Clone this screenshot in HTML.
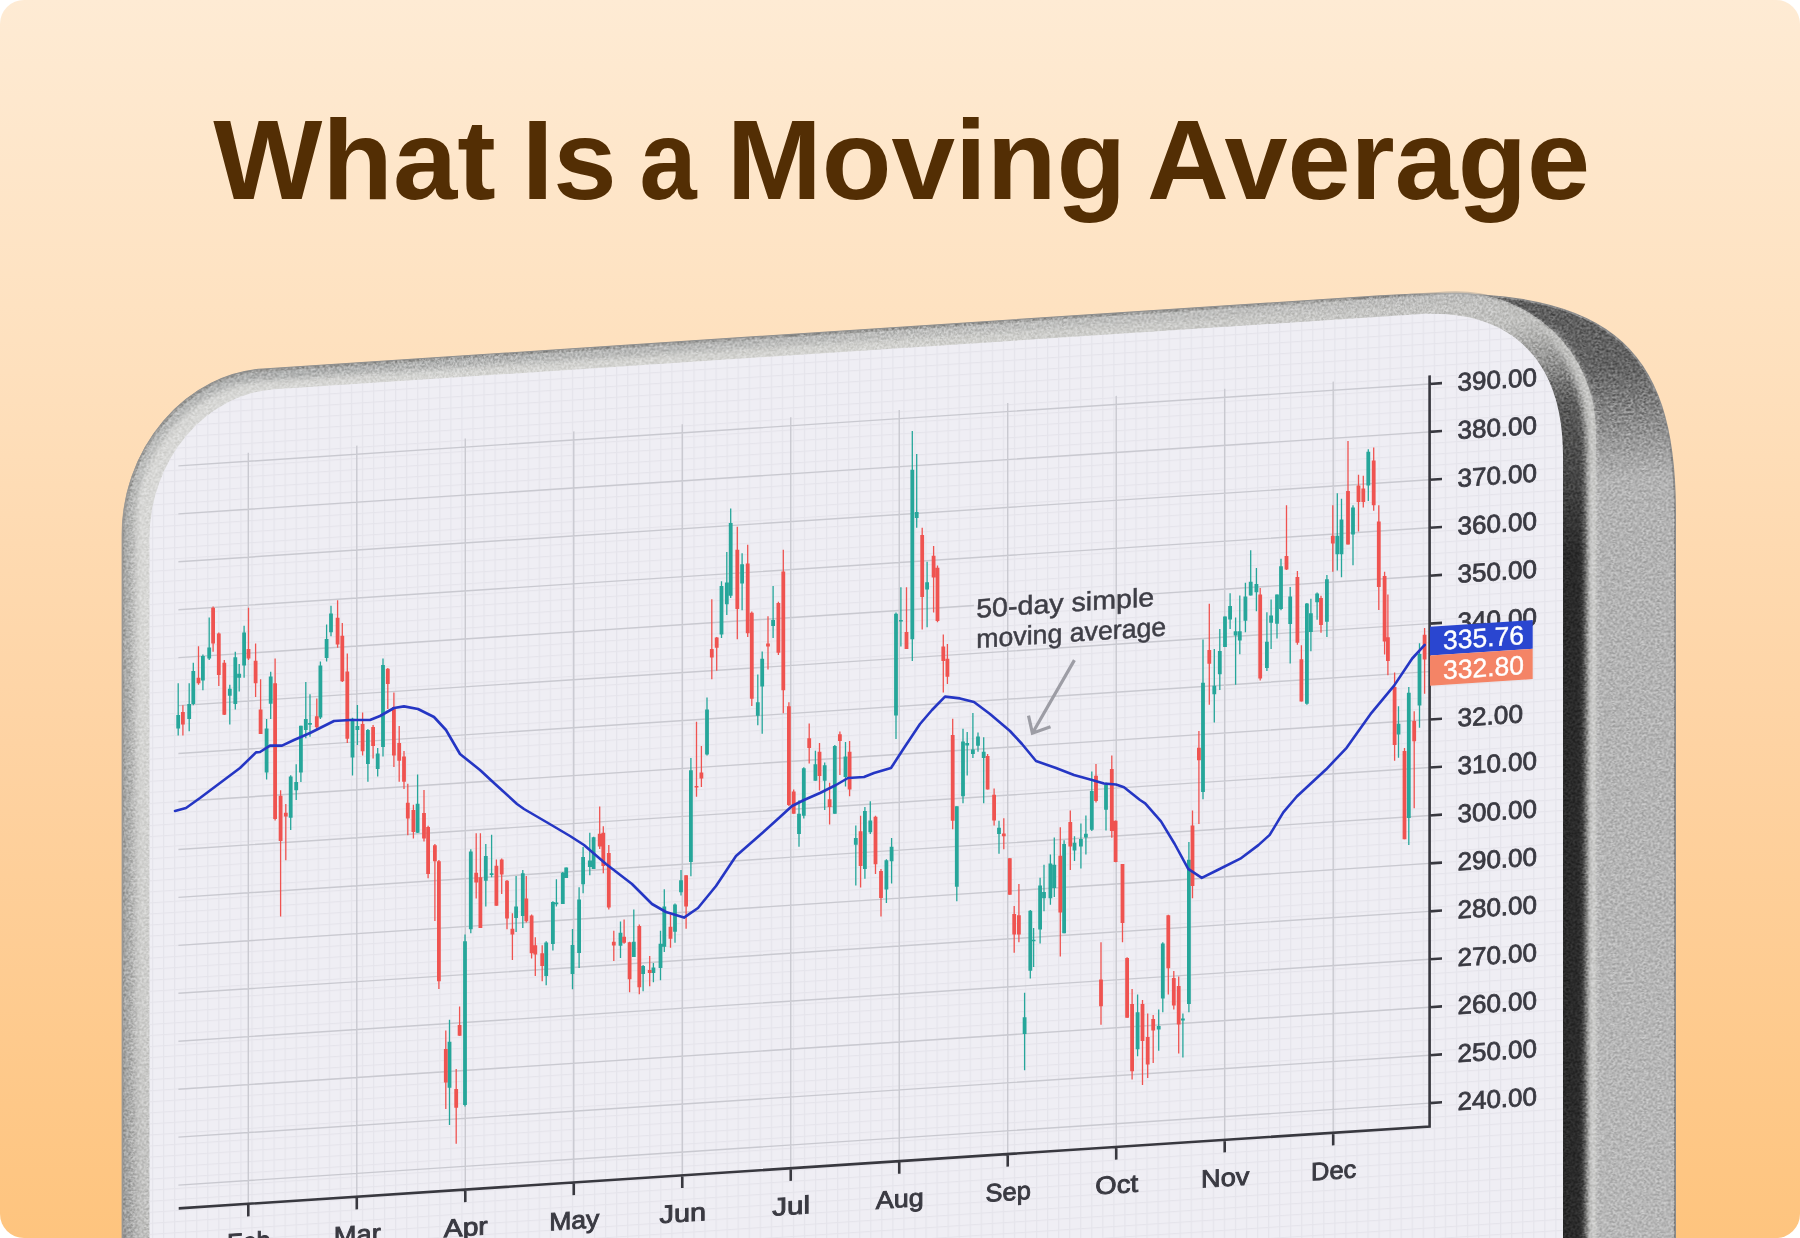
<!DOCTYPE html>
<html><head><meta charset="utf-8"><title>What Is a Moving Average</title>
<style>
html,body{margin:0;padding:0;background:#ffffff;}
#card{position:absolute;left:0;top:0;width:1800px;height:1238px;border-radius:24px;overflow:hidden;
background:linear-gradient(180deg,#feebd4 0%,#fee0bd 30%,#fed3a3 60%,#fec47e 100%);}
svg{position:absolute;left:0;top:0;}
</style></head><body>
<div id="card">
<svg width="1800" height="1238" viewBox="0 0 1800 1238">
<defs>
<pattern id="minor" patternUnits="userSpaceOnUse" width="11.05" height="11.05" x="8.3" y="0.85">
<path d="M0 0.6H11.05M0.6 0V11.05" stroke="#e5e4eb" stroke-width="1.2" fill="none"/>
</pattern>
<linearGradient id="sideG" x1="0" y1="294" x2="0" y2="1238" gradientUnits="userSpaceOnUse">
<stop offset="0" stop-color="#5c5c5c"/><stop offset="0.09" stop-color="#646464"/><stop offset="0.15" stop-color="#8c8c8c"/><stop offset="0.21" stop-color="#b2b2b2"/><stop offset="1" stop-color="#b7b7b7"/>
</linearGradient>
<linearGradient id="frontG" x1="123" y1="0" x2="1598" y2="0" gradientUnits="userSpaceOnUse">
<stop offset="0" stop-color="#a8a8a6"/><stop offset="0.006" stop-color="#c4c4c2"/><stop offset="0.012" stop-color="#d8d8d6"/><stop offset="0.5" stop-color="#d3d3d0"/><stop offset="0.85" stop-color="#c6c6c4"/><stop offset="1" stop-color="#bcbcba"/>
</linearGradient>
<filter id="blur2" filterUnits="userSpaceOnUse" x="0" y="0" width="1800" height="1400"><feGaussianBlur stdDeviation="2"/></filter>
<filter id="blur3" filterUnits="userSpaceOnUse" x="0" y="0" width="1800" height="1400"><feGaussianBlur stdDeviation="3"/></filter>
<linearGradient id="bandG" x1="0" y1="330" x2="0" y2="560" gradientUnits="userSpaceOnUse">
<stop offset="0" stop-color="#5a5a5a" stop-opacity="0"/><stop offset="0.35" stop-color="#4a4a4a" stop-opacity="0.85"/><stop offset="1" stop-color="#2c2c2c"/>
</linearGradient>
<linearGradient id="ridgeG" x1="0" y1="330" x2="0" y2="520" gradientUnits="userSpaceOnUse">
<stop offset="0" stop-color="#c8c8c6" stop-opacity="0.5"/><stop offset="1" stop-color="#cfcfcd"/>
</linearGradient>
<linearGradient id="leftG" x1="0" y1="560" x2="0" y2="1330" gradientUnits="userSpaceOnUse">
<stop offset="0" stop-color="#8c8c8c" stop-opacity="0"/><stop offset="0.5" stop-color="#8c8c8c" stop-opacity="0.15"/><stop offset="1" stop-color="#8c8c8c" stop-opacity="0.5"/>
</linearGradient>
<filter id="noise" color-interpolation-filters="sRGB" filterUnits="userSpaceOnUse" x="100" y="250" width="1600" height="1150">
<feTurbulence type="fractalNoise" baseFrequency="0.45" numOctaves="3" seed="7" result="t"/>
<feColorMatrix in="t" type="matrix" values="2.2 0 0 0 -0.6  2.2 0 0 0 -0.6  2.2 0 0 0 -0.6  0 0 0 0 1" result="m"/>
<feComposite in="m" in2="SourceGraphic" operator="in"/>
</filter>
<linearGradient id="lineG" x1="123" y1="0" x2="1560" y2="0" gradientUnits="userSpaceOnUse">
<stop offset="0" stop-color="#9a9a98" stop-opacity="0.8"/><stop offset="0.85" stop-color="#9a9a98" stop-opacity="0.7"/><stop offset="1" stop-color="#8a8a8a" stop-opacity="0.2"/>
</linearGradient>
<linearGradient id="edgeG" x1="123" y1="0" x2="1500" y2="0" gradientUnits="userSpaceOnUse">
<stop offset="0" stop-color="#a6a8a7" stop-opacity="0.55"/><stop offset="0.1" stop-color="#a0a2a2" stop-opacity="0.8"/><stop offset="0.5" stop-color="#a8a9a9" stop-opacity="0.6"/><stop offset="1" stop-color="#b0b0b0" stop-opacity="0.3"/>
</linearGradient>
</defs>
<g font-family="Liberation Sans, Arial, sans-serif" font-weight="700" font-size="112.5" fill="#532e04">
<text x="213.3" y="198.7" textLength="282.4" lengthAdjust="spacingAndGlyphs">What</text>
<text x="521.7" y="198.7" textLength="95.1" lengthAdjust="spacingAndGlyphs">Is</text>
<text x="639.4" y="198.7" textLength="57.2" lengthAdjust="spacingAndGlyphs">a</text>
<text x="726.8" y="198.7" textLength="399.3" lengthAdjust="spacingAndGlyphs">Moving</text>
<text x="1146.9" y="198.7" textLength="443.1" lengthAdjust="spacingAndGlyphs">Average</text>
</g>

<g transform="matrix(1 -0.0655 0 1 0 93.665)">
<path d="M123,1400 L123,448.0 A140,155 0 0 1 263,293.0 L1380,293.0 C1610,293.0 1675,360 1675,530 L1675,1400 Z" fill="url(#sideG)"/>
<path d="M123,1400 L123,448.0 A140,155 0 0 1 263,293.0 L1380,293.0 C1610,293.0 1675,360 1675,530 L1675,1400 Z" fill="none" stroke="#8a8a8a" stroke-width="2"/>
<path d="M123,1400 L123,449.0 A140,155 0 0 1 263,294.0 L1446,294.0 A150,150 0 0 1 1596,444.0 L1596,1400 Z" fill="url(#frontG)"/>
<clipPath id="frontclip"><path d="M123,1400 L123,449.0 A140,155 0 0 1 263,294.0 L1446,294.0 A150,150 0 0 1 1596,444.0 L1596,1400 Z"/></clipPath>
<path d="M123,1400 L123,449.0 A140,155 0 0 1 263,294.0 L1500,294.0" fill="none" stroke="url(#edgeG)" stroke-width="20" filter="url(#blur3)" clip-path="url(#frontclip)"/>
<path d="M123,1400 L123,449.0 A140,155 0 0 1 263,294.0 L1446,294.0 A150,150 0 0 1 1552,338.0" fill="none" stroke="url(#lineG)" stroke-width="3"/>
<rect x="120" y="560" width="32" height="840" fill="url(#leftG)" clip-path="url(#frontclip)"/>
<path d="M1592,1400 V444.0 A146,150 0 0 0 1549.2,337.9" fill="none" stroke="url(#ridgeG)" stroke-width="8" filter="url(#blur2)"/>
<path d="M1563,1400 V463.5 C1563,368.1 1510.2,313.5 1418,313.5" fill="none" stroke="url(#bandG)" stroke-width="46" filter="url(#blur3)" clip-path="url(#frontclip)"/>
<path d="M123,1400 L123,448.0 A140,155 0 0 1 263,293.0 L1380,293.0 C1610,293.0 1675,360 1675,530 L1675,1400 Z" fill="#000" filter="url(#noise)" opacity="0.35" style="mix-blend-mode:overlay"/>
<path id="scr" d="M149.5,1400 L149.5,453.5 A125,140 0 0 1 274.5,313.5 L1418,313.5 C1510.2,313.5 1563,368.1 1563,463.5 L1563,1400 Z" fill="#efeef4"/>
<clipPath id="scrclip"><path d="M149.5,1400 L149.5,453.5 A125,140 0 0 1 274.5,313.5 L1418,313.5 C1510.2,313.5 1563,368.1 1563,463.5 L1563,1400 Z"/></clipPath>
<rect x="140" y="300" width="1430" height="1100" fill="url(#minor)" clip-path="url(#scrclip)"/>
<path d="M178.4,1103.11H1429.6 M178.4,1055.16H1429.6 M178.4,1007.21H1429.6 M178.4,959.26H1429.6 M178.4,911.32H1429.6 M178.4,863.37H1429.6 M178.4,815.42H1429.6 M178.4,767.48H1429.6 M178.4,719.53H1429.6 M178.4,671.58H1429.6 M178.4,623.63H1429.6 M178.4,575.69H974M1152,575.69H1429.6 M178.4,527.74H1429.6 M178.4,479.79H1429.6 M178.4,431.85H1429.6 M178.4,383.90H1429.6 M248.30,375.3V1126.4 M356.79,375.3V1126.4 M465.28,375.3V1126.4 M573.77,375.3V1126.4 M682.26,375.3V1126.4 M790.75,375.3V1126.4 M899.24,375.3V1126.4 M1007.73,375.3V1126.4 M1116.22,375.3V1126.4 M1224.71,375.3V1126.4 M1333.20,375.3V1126.4" stroke="#c9c9d0" stroke-width="1.4" fill="none"/>
<path d="M178.7,1126.4H1429.6V375.3 M1429.6,1103.11H1442 M1429.6,1055.16H1442 M1429.6,1007.21H1442 M1429.6,959.26H1442 M1429.6,911.32H1442 M1429.6,863.37H1442 M1429.6,815.42H1442 M1429.6,767.48H1442 M1429.6,719.53H1442 M1429.6,671.58H1442 M1429.6,623.63H1442 M1429.6,575.69H1442 M1429.6,527.74H1442 M1429.6,479.79H1442 M1429.6,431.85H1442 M1429.6,383.90H1442 M248.30,1126.4V1139 M356.79,1126.4V1139 M465.28,1126.4V1139 M573.77,1126.4V1139 M682.26,1126.4V1139 M790.75,1126.4V1139 M899.24,1126.4V1139 M1007.73,1126.4V1139 M1116.22,1126.4V1139 M1224.71,1126.4V1139 M1333.20,1126.4V1139" stroke="#38383f" stroke-width="2.6" fill="none" stroke-linecap="butt"/>
<g font-family="Liberation Sans, Arial, sans-serif" font-size="25.5" fill="#3a3a42" stroke="#3a3a42" stroke-width="0.8"><text x="1457.5" y="1112.01" textLength="79.5" lengthAdjust="spacingAndGlyphs">240.00</text><text x="1457.5" y="1064.06" textLength="79.5" lengthAdjust="spacingAndGlyphs">250.00</text><text x="1457.5" y="1016.11" textLength="79.5" lengthAdjust="spacingAndGlyphs">260.00</text><text x="1457.5" y="968.16" textLength="79.5" lengthAdjust="spacingAndGlyphs">270.00</text><text x="1457.5" y="920.22" textLength="79.5" lengthAdjust="spacingAndGlyphs">280.00</text><text x="1457.5" y="872.27" textLength="79.5" lengthAdjust="spacingAndGlyphs">290.00</text><text x="1457.5" y="824.32" textLength="79.5" lengthAdjust="spacingAndGlyphs">300.00</text><text x="1457.5" y="776.38" textLength="79.5" lengthAdjust="spacingAndGlyphs">310.00</text><text x="1457.5" y="728.43" textLength="65.5" lengthAdjust="spacingAndGlyphs">32.00</text><text x="1457.5" y="584.59" textLength="79.5" lengthAdjust="spacingAndGlyphs">350.00</text><text x="1457.5" y="536.64" textLength="79.5" lengthAdjust="spacingAndGlyphs">360.00</text><text x="1457.5" y="488.69" textLength="79.5" lengthAdjust="spacingAndGlyphs">370.00</text><text x="1457.5" y="440.75" textLength="79.5" lengthAdjust="spacingAndGlyphs">380.00</text><text x="1457.5" y="392.80" textLength="79.5" lengthAdjust="spacingAndGlyphs">390.00</text></g>
<text x="1457.5" y="632.53" textLength="79.5" lengthAdjust="spacingAndGlyphs" font-family="Liberation Sans, Arial, sans-serif" font-size="25.5" fill="#3a3a42" stroke="#3a3a42" stroke-width="0.8">340.00</text>
<g font-family="Liberation Sans, Arial, sans-serif" font-size="25" fill="#3a3a42" stroke="#3a3a42" stroke-width="0.9"><text x="227.05" y="1172.7" textLength="43.5" lengthAdjust="spacingAndGlyphs">Feb</text><text x="333.84" y="1172.7" textLength="46.9" lengthAdjust="spacingAndGlyphs">Mar</text><text x="443.78" y="1172.7" textLength="44.0" lengthAdjust="spacingAndGlyphs">Apr</text><text x="549.17" y="1172.7" textLength="50.2" lengthAdjust="spacingAndGlyphs">May</text><text x="659.51" y="1172.7" textLength="46.5" lengthAdjust="spacingAndGlyphs">Jun</text><text x="772.35" y="1172.7" textLength="37.8" lengthAdjust="spacingAndGlyphs">Jul</text><text x="875.79" y="1172.7" textLength="47.9" lengthAdjust="spacingAndGlyphs">Aug</text><text x="985.63" y="1172.7" textLength="45.2" lengthAdjust="spacingAndGlyphs">Sep</text><text x="1095.37" y="1172.7" textLength="42.7" lengthAdjust="spacingAndGlyphs">Oct</text><text x="1201.11" y="1172.7" textLength="48.2" lengthAdjust="spacingAndGlyphs">Nov</text><text x="1311.10" y="1172.7" textLength="45.2" lengthAdjust="spacingAndGlyphs">Dec</text></g>
<g font-family="Liberation Sans, Arial, sans-serif" font-size="26.5" fill="#3e3e46" stroke="#3e3e46" stroke-width="0.5"><text x="976.2" y="588" textLength="178" lengthAdjust="spacingAndGlyphs">50-day simple</text><text x="976.2" y="618.2" textLength="190" lengthAdjust="spacingAndGlyphs">moving average</text></g>
<path d="M1430,626.8H1532.7V655.6H1430Z" fill="#2a46d0"/>
<path d="M1430,655.6H1532.7V685.8H1430Z" fill="#f48466"/>
<g font-family="Liberation Sans, Arial, sans-serif" font-size="26.5" fill="#ffffff" stroke="#ffffff" stroke-width="0.4"><text x="1443" y="650.3">335.76</text><text x="1443" y="680.2">332.80</text></g>
</g>
<path d="M178.2,683.3V735.4 M189.2,683.3V731.3 M193.3,662.7V705.3 M202.9,654.5V690.2 M209.2,617.4V660.0 M229.8,684.7V724.5 M235.3,651.7V709.4 M239.2,664.1V691.5 M244.1,625.7V677.8 M266.6,719.0V779.4 M270.7,671.8V719.0 M290.7,775.2V830.1 M296.2,764.3V799.9 M300.9,725.8V782.1 M305.8,681.9V738.2 M310.0,694.3V736.8 M320.4,661.4V719.0 M326.6,624.6V661.4 M331.0,605.7V636.2 M352.5,717.7V775.4 M357.4,705.0V745.0 M367.9,729.0V781.7 M377.7,748.0V776.5 M383.0,658.5V756.5 M417.6,774.4V833.0 M449.5,1019.8V1125.0 M465.0,934.6V1106.4 M470.8,849.3V933.2 M485.8,844.0V906.6 M491.6,834.7V877.3 M516.1,876.0V932.0 M522.8,870.0V928.0 M546.2,941.2V985.2 M552.9,901.3V950.6 M556.4,879.2V906.6 M562.8,872.0V904.0 M566.2,867.4V878.0 M572.5,929.0V989.2 M579.1,887.3V968.0 M583.1,847.0V893.3 M589.8,832.8V875.2 M593.6,836.8V869.0 M620.5,921.6V958.0 M633.8,909.5V957.0 M643.1,965.0V991.3 M653.4,963.0V982.2 M660.5,930.7V980.2 M664.3,889.3V952.0 M675.0,903.4V942.8 M681.0,870.1V895.4 M690.9,758.0V876.2 M707.0,697.5V755.6 M721.5,581.2V638.1 M726.8,552.0V615.0 M730.7,508.5V598.1 M742.1,553.3V610.2 M757.8,674.5V725.3 M762.2,651.4V733.8 M773.1,586.0V638.1 M799.0,800.2V846.7 M803.8,767.2V818.6 M815.4,750.8V780.8 M824.7,762.4V809.9 M834.8,745.0V813.8 M845.5,742.0V786.6 M855.8,825.4V885.5 M864.9,807.0V878.7 M870.3,801.2V834.1 M886.4,859.3V903.0 M891.6,838.0V883.6 M896.0,612.6V739.0 M900.9,587.2V646.6 M912.3,431.0V661.0 M916.7,454.0V527.8 M927.1,561.7V627.2 M956.8,806.3V901.3 M963.0,728.8V803.2 M967.2,731.9V775.6 M972.9,713.0V758.0 M978.0,732.6V751.8 M983.7,737.2V803.2 M999.0,820.8V853.8 M1024.6,992.7V1070.3 M1030.3,910.0V978.5 M1033.6,928.0V966.9 M1040.1,877.7V943.6 M1044.0,864.7V911.3 M1050.4,854.4V904.8 M1054.3,837.6V897.0 M1064.1,840.2V933.3 M1074.5,836.3V860.9 M1080.9,823.4V868.6 M1085.9,815.6V854.4 M1091.8,771.6V831.1 M1106.0,782.5V830.5 M1137.6,994.4V1056.2 M1158.7,1009.5V1050.7 M1162.8,942.2V1012.2 M1182.9,1013.6V1057.5 M1188.9,842.0V1012.2 M1203.0,639.6V799.3 M1214.3,649.0V722.6 M1219.8,629.0V690.0 M1225.0,616.5V647.0 M1230.1,593.3V629.0 M1235.6,617.5V684.8 M1239.8,595.4V654.3 M1245.4,582.8V632.2 M1250.7,550.3V595.4 M1256.4,568.1V611.2 M1266.9,612.3V671.1 M1271.1,599.6V649.0 M1277.0,594.4V638.5 M1281.0,558.7V610.2 M1290.2,587.0V663.5 M1306.9,603.0V704.7 M1310.9,598.8V651.2 M1317.1,592.4V619.7 M1326.9,575.0V637.1 M1337.3,493.2V570.6 M1341.5,498.7V577.2 M1353.0,505.2V565.2 M1368.3,449.2V500.9 M1398.5,706.3V757.8 M1408.8,687.0V845.0 M1419.5,643.3V727.7" stroke="#26a69a" stroke-width="1.3" fill="none"/>
<path d="M176.3,714.9h3.8v13.7h-3.8z M187.3,703.9h3.8v15.1h-3.8z M191.4,671.0h3.8v32.9h-3.8z M201.0,655.9h3.8v24.7h-3.8z M207.3,647.6h3.8v11.0h-3.8z M227.9,688.8h3.8v6.9h-3.8z M233.4,657.2h3.8v46.7h-3.8z M237.3,673.7h3.8v4.1h-3.8z M242.2,632.5h3.8v32.9h-3.8z M264.7,728.6h3.8v43.9h-3.8z M268.8,676.4h3.8v27.4h-3.8z M288.8,776.6h3.8v41.2h-3.8z M294.3,782.1h3.8v8.2h-3.8z M299.0,725.8h3.8v46.7h-3.8z M303.9,719.0h3.8v11.0h-3.8z M308.1,723.1h3.8v1.6h-3.8z M318.5,665.5h3.8v52.1h-3.8z M324.7,639.0h3.8v19.0h-3.8z M329.1,613.4h3.8v18.9h-3.8z M350.6,718.7h3.8v38.9h-3.8z M355.5,726.0h3.8v4.0h-3.8z M366.0,730.0h3.8v34.0h-3.8z M375.8,753.4h3.8v15.6h-3.8z M381.1,665.0h3.8v82.0h-3.8z M415.7,803.8h3.8v29.0h-3.8z M447.6,1041.7h3.8v46.1h-3.8z M463.1,941.2h3.8v163.8h-3.8z M468.9,851.4h3.8v77.8h-3.8z M483.9,856.0h3.8v24.8h-3.8z M489.7,873.3h3.8v1.6h-3.8z M514.2,906.6h3.8v11.4h-3.8z M520.9,873.3h3.8v42.7h-3.8z M544.3,942.6h3.8v33.3h-3.8z M551.0,902.0h3.8v41.9h-3.8z M554.5,902.6h3.8v1.6h-3.8z M560.9,872.8h3.8v31.2h-3.8z M564.3,867.4h3.8v10.6h-3.8z M570.6,945.0h3.8v29.0h-3.8z M577.2,899.4h3.8v53.6h-3.8z M581.2,857.0h3.8v27.3h-3.8z M587.9,860.6h3.8v6.5h-3.8z M591.7,837.2h3.8v31.8h-3.8z M618.6,932.7h3.8v13.1h-3.8z M631.9,941.8h3.8v15.2h-3.8z M641.2,966.0h3.8v8.0h-3.8z M651.5,967.6h3.8v5.4h-3.8z M658.6,943.8h3.8v24.2h-3.8z M662.4,906.5h3.8v40.3h-3.8z M673.1,904.5h3.8v27.2h-3.8z M679.1,880.2h3.8v12.1h-3.8z M689.0,770.2h3.8v91.8h-3.8z M705.1,709.6h3.8v44.8h-3.8z M719.6,586.0h3.8v48.5h-3.8z M724.9,582.4h3.8v21.8h-3.8z M728.8,523.0h3.8v72.7h-3.8z M740.2,564.2h3.8v19.4h-3.8z M755.9,702.3h3.8v13.4h-3.8z M760.3,658.7h3.8v27.9h-3.8z M771.2,620.0h3.8v6.0h-3.8z M797.1,813.8h3.8v20.3h-3.8z M801.9,768.2h3.8v47.5h-3.8z M813.5,764.3h3.8v16.5h-3.8z M822.8,765.3h3.8v15.5h-3.8z M832.9,745.9h3.8v67.9h-3.8z M843.6,756.6h3.8v20.4h-3.8z M853.9,838.0h3.8v6.8h-3.8z M863.0,810.9h3.8v58.1h-3.8z M868.4,820.6h3.8v11.6h-3.8z M884.5,860.3h3.8v29.1h-3.8z M889.7,846.7h3.8v14.6h-3.8z M894.1,613.8h3.8v101.7h-3.8z M899.0,620.0h3.8v1.6h-3.8z M910.4,469.7h3.8v169.6h-3.8z M914.8,512.0h3.8v6.0h-3.8z M925.2,582.3h3.8v7.3h-3.8z M954.9,806.3h3.8v80.5h-3.8z M961.1,741.4h3.8v54.9h-3.8z M965.3,743.0h3.8v2.4h-3.8z M971.0,749.5h3.8v4.6h-3.8z M976.1,736.5h3.8v9.2h-3.8z M981.8,751.8h3.8v6.2h-3.8z M997.1,827.7h3.8v6.2h-3.8z M1022.7,1017.3h3.8v16.8h-3.8z M1028.4,910.8h3.8v60.0h-3.8z M1031.7,939.7h3.8v1.6h-3.8z M1038.2,885.4h3.8v44.0h-3.8z M1042.1,891.9h3.8v6.4h-3.8z M1048.5,863.4h3.8v34.9h-3.8z M1052.4,864.7h3.8v23.3h-3.8z M1062.2,844.0h3.8v89.3h-3.8z M1072.6,842.7h3.8v7.8h-3.8z M1079.0,838.9h3.8v7.7h-3.8z M1084.0,833.7h3.8v3.9h-3.8z M1089.9,791.0h3.8v38.8h-3.8z M1104.1,784.5h3.8v25.3h-3.8z M1135.7,1012.2h3.8v37.1h-3.8z M1156.8,1026.0h3.8v3.5h-3.8z M1160.9,943.6h3.8v54.9h-3.8z M1181.0,1018.5h3.8v2.0h-3.8z M1187.0,859.8h3.8v144.2h-3.8z M1201.1,682.7h3.8v109.3h-3.8z M1212.4,685.8h3.8v8.4h-3.8z M1217.9,651.0h3.8v23.3h-3.8z M1223.1,616.5h3.8v30.5h-3.8z M1228.2,606.0h3.8v13.6h-3.8z M1233.7,631.2h3.8v4.2h-3.8z M1237.9,631.2h3.8v9.4h-3.8z M1243.5,596.5h3.8v24.2h-3.8z M1248.8,581.8h3.8v13.6h-3.8z M1254.5,583.9h3.8v8.4h-3.8z M1265.0,641.7h3.8v26.3h-3.8z M1269.2,615.4h3.8v7.4h-3.8z M1275.1,594.4h3.8v29.4h-3.8z M1279.1,566.2h3.8v42.8h-3.8z M1288.3,596.6h3.8v27.4h-3.8z M1305.0,603.5h3.8v100.2h-3.8z M1309.0,613.2h3.8v18.8h-3.8z M1315.2,593.5h3.8v8.7h-3.8z M1325.0,579.3h3.8v42.5h-3.8z M1335.4,535.7h3.8v18.6h-3.8z M1339.6,519.4h3.8v34.9h-3.8z M1351.1,507.4h3.8v27.2h-3.8z M1366.4,451.8h3.8v33.8h-3.8z M1396.6,723.8h3.8v10.7h-3.8z M1406.9,692.8h3.8v125.1h-3.8z M1417.6,654.0h3.8v51.4h-3.8z" fill="#26a69a"/>
<path d="M182.9,705.3V735.4 M198.5,646.3V684.7 M213.1,606.5V651.7 M218.8,632.5V686.0 M224.3,660.0V714.9 M248.5,607.8V660.0 M255.6,643.5V697.0 M260.6,679.2V734.1 M275.1,658.6V820.5 M280.6,790.3V916.6 M285.8,804.1V860.3 M316.8,698.4V730.0 M337.6,600.3V647.8 M342.3,623.0V682.0 M347.3,653.6V742.9 M362.6,712.4V755.5 M373.1,725.0V758.6 M387.8,668.0V709.0 M393.9,692.5V767.0 M399.2,726.0V781.7 M404.0,751.0V789.0 M407.8,783.8V835.3 M413.4,804.8V838.4 M424.0,790.0V841.6 M428.1,825.8V878.3 M434.9,844.0V921.0 M438.9,860.0V989.0 M445.8,1030.5V1109.0 M456.2,1069.0V1143.7 M459.6,1006.5V1035.8 M476.2,833.3V898.6 M480.4,833.3V928.0 M496.4,859.4V905.8 M501.7,858.6V894.0 M507.0,880.0V929.2 M512.4,913.3V959.9 M526.3,876.0V922.6 M531.6,914.6V958.6 M535.3,937.2V975.9 M542.2,945.2V981.2 M599.7,806.5V849.0 M603.3,826.3V873.2 M608.8,845.0V909.5 M613.8,930.7V961.0 M624.1,919.6V943.8 M629.6,941.8V992.3 M639.3,924.6V994.3 M649.7,956.0V986.2 M670.5,914.6V947.8 M686.1,875.2V928.7 M696.5,721.7V796.8 M701.4,746.0V787.0 M711.8,599.3V679.3 M716.7,637.0V670.8 M737.3,526.7V639.3 M747.7,544.8V636.9 M751.8,611.5V706.0 M768.0,616.3V669.6 M778.4,601.8V655.0 M783.3,549.7V713.2 M788.9,702.3V806.0 M793.7,789.5V813.8 M809.2,723.6V763.4 M819.5,743.0V790.5 M829.6,782.8V824.4 M839.9,731.4V775.0 M849.6,741.0V796.3 M860.6,815.7V887.4 M875.5,815.7V873.9 M881.0,869.0V916.5 M906.5,587.2V649.0 M922.2,527.8V629.6 M933.6,546.0V612.6 M937.5,565.4V622.3 M943.3,634.4V692.6 M947.4,644.1V684.1 M952.7,718.8V829.3 M987.6,754.0V789.4 M994.1,788.6V825.4 M1003.8,818.3V849.2 M1009.8,858.3V894.8 M1014.2,906.0V952.7 M1018.9,884.0V942.3 M1060.3,827.2V956.5 M1070.3,810.4V869.9 M1096.0,764.0V802.5 M1101.0,942.2V1024.8 M1111.8,755.5V837.8 M1115.6,820.4V862.3 M1122.5,864.0V942.2 M1127.1,957.3V1017.7 M1132.1,988.9V1079.5 M1142.5,999.9V1085.0 M1147.7,1013.6V1078.1 M1153.2,1015.0V1063.0 M1168.3,914.7V994.4 M1173.8,971.0V1009.5 M1178.7,976.5V1053.4 M1192.5,810.4V898.3 M1198.9,731.0V824.1 M1209.3,603.8V704.7 M1260.2,588.0V680.6 M1286.5,505.2V570.0 M1297.4,571.0V644.8 M1301.4,645.3V701.6 M1321.0,595.7V632.7 M1332.8,505.2V571.7 M1348.0,440.9V544.5 M1358.5,474.7V531.4 M1363.3,475.8V507.4 M1373.7,447.4V510.7 M1378.8,505.2V609.9 M1384.6,571.7V654.5 M1387.9,594.6V675.3 M1394.6,672.4V760.7 M1404.5,748.0V839.2 M1414.2,711.2V808.2 M1424.6,628.0V693.7" stroke="#ef5350" stroke-width="1.3" fill="none"/>
<path d="M181.0,712.1h3.8v12.3h-3.8z M196.6,677.8h3.8v5.5h-3.8z M211.2,607.8h3.8v35.7h-3.8z M216.9,633.4h3.8v41.7h-3.8z M222.4,662.7h3.8v52.1h-3.8z M246.6,649.0h3.8v9.6h-3.8z M253.7,660.8h3.8v22.5h-3.8z M258.7,709.4h3.8v24.7h-3.8z M273.2,683.3h3.8v135.8h-3.8z M278.7,795.8h3.8v45.3h-3.8z M283.9,812.8h3.8v3.6h-3.8z M314.9,716.2h3.8v11.0h-3.8z M335.7,617.8h3.8v26.6h-3.8z M340.4,635.7h3.8v45.6h-3.8z M345.4,671.5h3.8v67.2h-3.8z M360.7,724.0h3.8v27.3h-3.8z M371.2,727.0h3.8v19.0h-3.8z M385.9,668.7h3.8v15.3h-3.8z M392.0,707.0h3.8v48.5h-3.8z M397.3,743.0h3.8v17.7h-3.8z M402.1,756.5h3.8v25.2h-3.8z M405.9,802.7h3.8v15.8h-3.8z M411.5,810.0h3.8v22.0h-3.8z M422.1,813.0h3.8v25.4h-3.8z M426.2,827.0h3.8v47.0h-3.8z M433.0,845.3h3.8v16.0h-3.8z M437.0,861.3h3.8v119.9h-3.8z M443.9,1049.0h3.8v33.5h-3.8z M454.3,1089.0h3.8v18.8h-3.8z M457.7,1025.0h3.8v10.8h-3.8z M474.3,872.8h3.8v9.8h-3.8z M478.5,877.3h3.8v50.7h-3.8z M494.5,865.8h3.8v40.0h-3.8z M499.8,859.4h3.8v15.2h-3.8z M505.1,880.8h3.8v37.8h-3.8z M510.5,928.7h3.8v5.9h-3.8z M524.4,898.6h3.8v22.6h-3.8z M529.7,915.4h3.8v37.8h-3.8z M533.4,945.2h3.8v9.4h-3.8z M540.3,953.2h3.8v12.8h-3.8z M597.8,833.8h3.8v12.7h-3.8z M601.4,832.8h3.8v33.2h-3.8z M606.9,853.0h3.8v54.5h-3.8z M611.9,941.8h3.8v3.6h-3.8z M622.2,936.8h3.8v6.0h-3.8z M627.7,942.2h3.8v37.0h-3.8z M637.4,926.0h3.8v61.2h-3.8z M647.8,970.0h3.8v3.0h-3.8z M668.6,926.7h3.8v12.1h-3.8z M684.2,875.2h3.8v31.3h-3.8z M694.6,786.0h3.8v1.6h-3.8z M699.5,772.6h3.8v6.0h-3.8z M709.9,649.0h3.8v8.5h-3.8z M714.8,637.6h3.8v10.2h-3.8z M735.4,549.7h3.8v59.3h-3.8z M745.8,563.5h3.8v69.8h-3.8z M749.9,612.7h3.8v86.0h-3.8z M766.1,643.4h3.8v3.2h-3.8z M776.5,603.0h3.8v49.7h-3.8z M781.4,571.5h3.8v118.7h-3.8z M787.0,706.2h3.8v98.8h-3.8z M791.8,791.5h3.8v22.3h-3.8z M807.3,738.2h3.8v9.7h-3.8z M817.6,751.7h3.8v24.3h-3.8z M827.7,799.2h3.8v7.8h-3.8z M838.0,734.3h3.8v6.7h-3.8z M847.7,751.7h3.8v37.8h-3.8z M858.7,831.2h3.8v34.9h-3.8z M873.6,816.7h3.8v47.5h-3.8z M879.1,871.0h3.8v27.1h-3.8z M904.6,632.0h3.8v17.0h-3.8z M920.3,535.0h3.8v62.0h-3.8z M931.7,555.7h3.8v21.8h-3.8z M935.6,567.8h3.8v53.2h-3.8z M941.4,646.6h3.8v14.4h-3.8z M945.5,658.7h3.8v18.1h-3.8z M950.8,735.0h3.8v85.8h-3.8z M985.7,756.0h3.8v33.4h-3.8z M992.2,794.8h3.8v25.7h-3.8z M1001.9,833.4h3.8v2.8h-3.8z M1007.9,858.3h3.8v36.5h-3.8z M1012.3,913.9h3.8v20.7h-3.8z M1017.0,915.2h3.8v19.4h-3.8z M1058.4,855.7h3.8v56.9h-3.8z M1068.4,822.0h3.8v24.6h-3.8z M1094.1,775.8h3.8v25.2h-3.8z M1099.1,979.5h3.8v26.7h-3.8z M1109.9,769.1h3.8v62.0h-3.8z M1113.7,820.8h3.8v41.2h-3.8z M1120.6,864.0h3.8v59.0h-3.8z M1125.2,958.1h3.8v59.6h-3.8z M1130.2,1004.0h3.8v67.2h-3.8z M1140.6,1004.0h3.8v37.0h-3.8z M1145.8,1037.0h3.8v27.4h-3.8z M1151.3,1019.0h3.8v11.6h-3.8z M1166.4,915.3h3.8v53.0h-3.8z M1171.9,977.9h3.8v27.5h-3.8z M1176.8,986.1h3.8v38.5h-3.8z M1190.6,825.5h3.8v60.5h-3.8z M1197.0,747.8h3.8v12.4h-3.8z M1207.4,650.0h3.8v13.7h-3.8z M1258.3,594.4h3.8v84.1h-3.8z M1284.6,556.0h3.8v13.5h-3.8z M1295.5,577.0h3.8v65.7h-3.8z M1299.5,659.2h3.8v42.4h-3.8z M1319.1,597.9h3.8v27.2h-3.8z M1330.9,535.7h3.8v7.7h-3.8z M1346.1,491.0h3.8v53.5h-3.8z M1356.6,485.6h3.8v16.4h-3.8z M1361.4,488.4h3.8v13.6h-3.8z M1371.8,460.5h3.8v44.7h-3.8z M1376.9,521.6h3.8v65.4h-3.8z M1382.7,576.1h3.8v65.3h-3.8z M1386.0,637.3h3.8v23.6h-3.8z M1392.7,687.0h3.8v58.1h-3.8z M1402.6,751.0h3.8v88.2h-3.8z M1412.3,720.9h3.8v20.4h-3.8z M1422.7,634.7h3.8v24.8h-3.8z" fill="#ef5350"/>
<polyline points="175.0,811.0 186.0,808.0 200.0,798.0 220.0,783.0 240.0,768.0 256.0,752.4 260.0,752.0 270.0,745.6 282.0,745.6 294.0,740.0 310.0,733.0 334.0,721.0 350.0,720.0 370.0,720.0 380.0,716.0 394.0,708.0 404.0,706.4 418.0,709.0 434.0,717.0 446.0,730.0 460.0,754.0 480.0,770.0 494.0,783.0 517.0,804.0 524.0,809.0 548.0,823.0 570.0,836.0 584.0,845.0 606.0,864.0 632.0,884.0 652.0,904.0 666.0,912.0 684.0,917.6 698.0,908.0 716.0,886.0 736.0,856.0 760.0,835.0 780.0,817.0 792.0,806.0 804.0,800.0 820.0,793.0 836.0,785.0 848.0,778.0 864.0,777.0 874.0,773.0 891.0,768.0 904.0,748.0 920.0,724.0 932.0,710.0 945.0,696.6 960.0,698.4 974.0,702.0 990.0,714.0 1010.0,731.0 1022.0,744.0 1036.0,761.0 1056.0,768.0 1074.0,775.0 1092.0,780.0 1104.0,783.5 1116.0,784.5 1124.0,787.2 1140.0,800.0 1145.2,803.3 1161.0,821.4 1174.7,844.0 1188.2,868.9 1201.8,877.9 1217.6,870.0 1240.3,858.7 1258.4,845.1 1269.7,834.9 1283.3,812.3 1296.8,796.5 1326.2,769.3 1346.6,747.8 1371.5,712.8 1394.1,685.6 1412.2,658.5 1424.7,644.9" fill="none" stroke="#2536c4" stroke-width="2.6" stroke-linejoin="round" stroke-linecap="round"/>
<path d="M1074.4,660.1L1032.4,733.2M1028.5,715.7L1032.4,733.2L1050.5,726.7" fill="none" stroke="#9d9da5" stroke-width="3.2" stroke-linecap="butt" stroke-linejoin="miter"/>
</svg></div></body></html>
